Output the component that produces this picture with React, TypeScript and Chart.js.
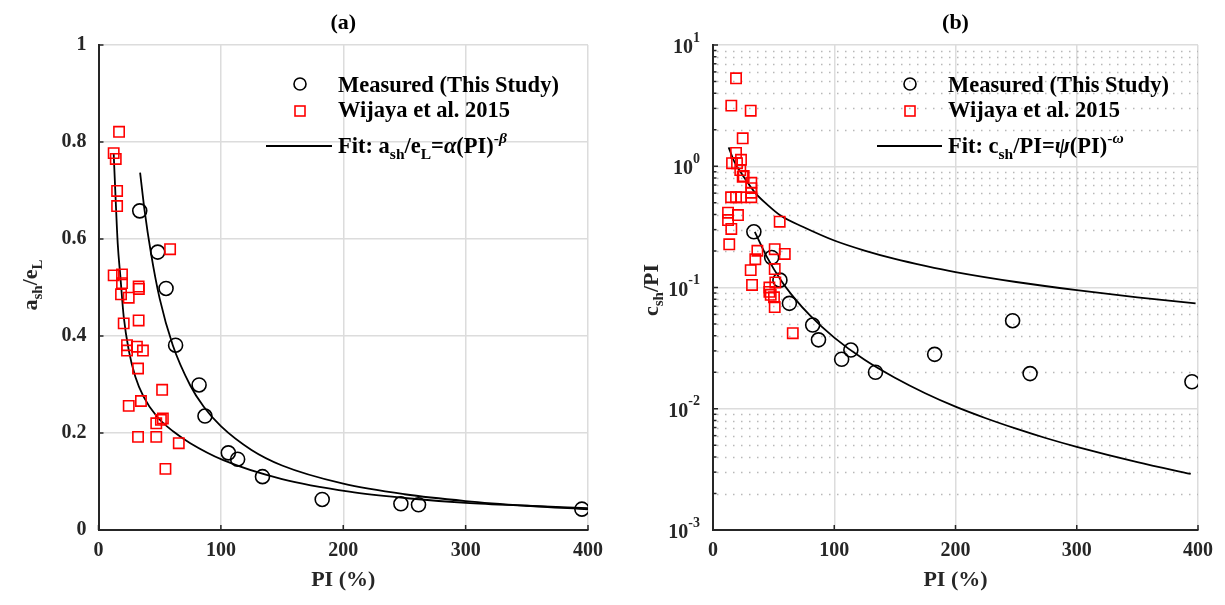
import React, { useEffect, useRef } from "react";
import { Chart, registerables } from "chart.js";
Chart.register(...registerables);

const FONT = '"Liberation Serif", "Times New Roman", Times, serif';
const AX = "#262626";
const GRID = "#dcdcdc";

// ---------- data ----------
const measuredPI = [33.7, 48.4, 55.2, 63, 82.2, 87, 106.1, 113.7, 134, 182.8, 247.1, 261.5, 395];
const measuredA = [0.658, 0.573, 0.498, 0.381, 0.299, 0.235, 0.159, 0.146, 0.11, 0.063, 0.054, 0.052, 0.043];
const measuredC = [0.288, 0.177, 0.115, 0.074, 0.049, 0.037, 0.0256, 0.0305, 0.02, 0.0281, 0.0532, 0.0195, 0.0167];

const wijayaPI_A = [16.8, 12.4, 14.1, 15.2, 15.2, 58.5, 12.4, 19.2, 19.2, 18.4, 24.7, 32.8, 33, 20.6, 32.8, 23.3, 23.3, 31.4, 36.3, 32.3, 52, 24.7, 34.7, 51, 47.2, 52.6, 32.3, 47.2, 65.6, 54.7];
const wijayaA = [0.821, 0.777, 0.765, 0.699, 0.668, 0.579, 0.525, 0.527, 0.509, 0.486, 0.479, 0.502, 0.497, 0.426, 0.432, 0.381, 0.37, 0.378, 0.37, 0.333, 0.289, 0.256, 0.266, 0.227, 0.22, 0.23, 0.192, 0.192, 0.179, 0.126];

const wijayaPI_C = [19.0, 15.1, 31.1, 24.5, 19.0, 15.7, 19.8, 23.1, 22.5, 25.3, 24.5, 31.6, 31.6, 31.6, 31.6, 14.9, 19.0, 23.1, 12.4, 12.4, 20.6, 15.1, 55.0, 13.4, 36.6, 34.9, 50.9, 59.2, 31.1, 50.9, 32.2, 51.4, 46.5, 46.5, 47.6, 50.3, 50.9, 65.8];
const wijayaC = [5.31, 3.16, 2.87, 1.7, 1.29, 1.06, 1.06, 1.13, 0.93, 0.83, 0.82, 0.73, 0.66, 0.605, 0.555, 0.555, 0.555, 0.555, 0.414, 0.36, 0.396, 0.304, 0.349, 0.227, 0.201, 0.171, 0.207, 0.189, 0.139, 0.142, 0.105, 0.11, 0.1, 0.092, 0.087, 0.083, 0.069, 0.042];

const fitA1PI = [34, 37.7, 42.8, 50, 60.7, 75, 86, 100, 125, 150, 200, 250, 300, 350, 400];
const fitA1 = [0.737, 0.658, 0.572, 0.477, 0.381, 0.298, 0.254, 0.214, 0.165, 0.133, 0.0955, 0.0737, 0.0597, 0.05, 0.0427];
const fitA2PI = [12.4, 13.8, 15.7, 17.9, 20.6, 24.7, 30.1, 36.8, 47.7, 61.2, 75, 102, 150, 205, 250, 300, 350, 400];
const fitA2 = [0.777, 0.694, 0.591, 0.522, 0.44, 0.371, 0.316, 0.275, 0.234, 0.203, 0.179, 0.144, 0.105, 0.079, 0.066, 0.056, 0.05, 0.045];

const fitC1PI = [12.9, 18, 24.6, 35, 45, 56, 74, 100, 125, 150, 175, 200, 250, 300, 350, 398];
const fitC1 = [1.43, 1.07, 0.84, 0.6, 0.48, 0.39, 0.317, 0.244, 0.2015, 0.172, 0.1507, 0.134, 0.111, 0.095, 0.083, 0.074];
const fitC2PI = [34.5, 45, 56, 67, 80, 100, 125, 150, 175, 200, 225, 250, 275, 300, 350, 394];
const fitC2 = [0.288, 0.1745, 0.115, 0.0822, 0.0588, 0.0386, 0.0253, 0.018, 0.01342, 0.0104, 0.00835, 0.00685, 0.00571, 0.00485, 0.00363, 0.0029];

const xTicks = [0, 100, 200, 300, 400];
const yTicksA = [0, 0.2, 0.4, 0.6, 0.8, 1];
const yTicksC = [0.001, 0.01, 0.1, 1, 10];
const yTickExpC = ["-3", "-2", "-1", "0", "1"];

const legendMeasured = "Measured (This Study)";
const legendWijaya = "Wijaya et al. 2015";

// ---------- helpers ----------
type Part = { t: string; s: number; dy?: number; it?: boolean };
function setFont(ctx: CanvasRenderingContext2D, size: number, italic?: boolean) {
  ctx.font = `${italic ? "italic " : ""}bold ${size}px ${FONT}`;
}
function richWidth(ctx: CanvasRenderingContext2D, parts: Part[]) {
  let w = 0;
  for (const p of parts) {
    setFont(ctx, p.s, p.it);
    w += ctx.measureText(p.t).width;
  }
  return w;
}
function drawRich(ctx: CanvasRenderingContext2D, parts: Part[], x: number, y: number) {
  let cx = x;
  ctx.textAlign = "left";
  for (const p of parts) {
    setFont(ctx, p.s, p.it);
    ctx.fillText(p.t, cx, y + (p.dy || 0));
    cx += ctx.measureText(p.t).width;
  }
}
const pts = (xs: number[], ys: number[]) => xs.map((x, i) => ({ x, y: ys[i] }));

type PanelDef = {
  title: string;
  yLabel: Part[];
  yLabelX: number;
  yLabelY: number;
  fitLegend: Part[];
  legendX: number;
  lineX0: number;
  lineX1: number;
  textX: number;
  log: boolean;
};

const LS = 22.5; // legend font size

function makePlugin(def: PanelDef) {
  return {
    id: "decor",
    beforeDatasetsDraw(chart: any) {
      const { ctx, chartArea: a } = chart;
      const ys = chart.scales.y;
      if (def.log) {
        ctx.save();
        ctx.strokeStyle = "#b8b8b8";
        ctx.lineWidth = 1.3;
        ctx.setLineDash([1.5, 6.5]);
        for (let e = -3; e <= 0; e++) {
          for (let k = 2; k <= 9; k++) {
            const y = Math.round(ys.getPixelForValue(k * Math.pow(10, e))) + 0.5;
            ctx.beginPath();
            ctx.moveTo(a.left + 4, y);
            ctx.lineTo(a.right, y);
            ctx.stroke();
          }
        }
        ctx.restore();
      }
    },
    afterDraw(chart: any) {
      const { ctx, chartArea: a } = chart;
      const xs = chart.scales.x;
      const ys = chart.scales.y;
      ctx.save();
      ctx.strokeStyle = AX;
      ctx.lineWidth = 1.5;
      ctx.setLineDash([]);
      for (const v of xTicks) {
        const x = xs.getPixelForValue(v);
        ctx.beginPath();
        ctx.moveTo(x, a.bottom);
        ctx.lineTo(x, a.bottom - 5);
        ctx.stroke();
      }
      const majors = def.log ? yTicksC : yTicksA;
      for (const v of majors) {
        const y = ys.getPixelForValue(v);
        ctx.beginPath();
        ctx.moveTo(a.left, y);
        ctx.lineTo(a.left + 5, y);
        ctx.stroke();
      }
      if (def.log) {
        for (let e = -3; e <= 0; e++) {
          for (let k = 2; k <= 9; k++) {
            const y = ys.getPixelForValue(k * Math.pow(10, e));
            ctx.beginPath();
            ctx.moveTo(a.left, y);
            ctx.lineTo(a.left + 3.5, y);
            ctx.stroke();
          }
        }
        ctx.fillStyle = AX;
        ctx.textBaseline = "middle";
        yTicksC.forEach((v, i) => {
          const y = ys.getPixelForValue(v);
          const parts: Part[] = [
            { t: "10", s: 20, dy: 3 },
            { t: yTickExpC[i], s: 14, dy: -7 },
          ];
          const w = richWidth(ctx, parts);
          drawRich(ctx, parts, a.left - 13 - w, y);
        });
      }
      ctx.fillStyle = "#000";
      ctx.textBaseline = "middle";
      ctx.textAlign = "center";
      setFont(ctx, 22);
      ctx.fillText(def.title, (a.left + a.right) / 2, 23);
      ctx.fillStyle = AX;
      ctx.fillText("PI (%)", (a.left + a.right) / 2, 580);
      ctx.save();
      ctx.translate(def.yLabelX, def.yLabelY);
      ctx.rotate(-Math.PI / 2);
      ctx.textBaseline = "middle";
      const w = richWidth(ctx, def.yLabel);
      drawRich(ctx, def.yLabel, -w / 2, 0);
      ctx.restore();
      // legend
      ctx.textBaseline = "alphabetic";
      ctx.fillStyle = "#000";
      ctx.lineWidth = 1.6;
      ctx.strokeStyle = "#000";
      ctx.beginPath();
      ctx.arc(def.legendX, 84, 6, 0, Math.PI * 2);
      ctx.stroke();
      ctx.strokeStyle = "#ff0000";
      ctx.strokeRect(def.legendX - 5, 106, 10, 10);
      ctx.strokeStyle = "#000";
      ctx.lineWidth = 2;
      ctx.beginPath();
      ctx.moveTo(def.lineX0, 146);
      ctx.lineTo(def.lineX1, 146);
      ctx.stroke();
      drawRich(ctx, [{ t: legendMeasured, s: LS }], def.textX, 92);
      drawRich(ctx, [{ t: legendWijaya, s: LS }], def.textX, 117);
      drawRich(ctx, def.fitLegend, def.textX, 153);
      ctx.restore();
    },
  };
}

function makeConfig(log: boolean): any {
  const measured = pts(measuredPI, log ? measuredC : measuredA);
  const wijaya = log ? pts(wijayaPI_C, wijayaC) : pts(wijayaPI_A, wijayaA);
  const fit1 = log ? pts(fitC1PI, fitC1) : pts(fitA1PI, fitA1);
  const fit2 = log ? pts(fitC2PI, fitC2) : pts(fitA2PI, fitA2);
  const lineDs = (data: any[]) => ({
    data,
    showLine: true,
    borderColor: "#000",
    borderWidth: 1.8,
    pointRadius: 0,
    cubicInterpolationMode: "monotone",
    fill: false,
  });
  const def: PanelDef = log
    ? {
        title: "(b)",
        yLabel: [
          { t: "c", s: 22 },
          { t: "sh", s: 15, dy: 7 },
          { t: "/PI", s: 22 },
        ],
        yLabelX: 40,
        yLabelY: 290,
        fitLegend: [
          { t: "Fit: c", s: LS },
          { t: "sh", s: 15.5, dy: 6 },
          { t: "/PI=", s: LS },
          { t: "ψ", s: LS, it: true },
          { t: "(PI)", s: LS },
          { t: "-", s: 15.5, dy: -10 },
          { t: "ω", s: 15.5, dy: -10, it: true },
        ],
        legendX: 298,
        lineX0: 265,
        lineX1: 330,
        textX: 336,
        log: true,
      }
    : {
        title: "(a)",
        yLabel: [
          { t: "a", s: 22 },
          { t: "sh", s: 15, dy: 7 },
          { t: "/e", s: 22 },
          { t: "L", s: 15, dy: 7 },
        ],
        yLabelX: 31,
        yLabelY: 285,
        fitLegend: [
          { t: "Fit: a", s: LS },
          { t: "sh", s: 15.5, dy: 6 },
          { t: "/e", s: LS },
          { t: "L", s: 15.5, dy: 6 },
          { t: "=", s: LS },
          { t: "α", s: LS, it: true },
          { t: "(PI)", s: LS },
          { t: "-", s: 15.5, dy: -10 },
          { t: "β", s: 15.5, dy: -10, it: true },
        ],
        legendX: 300,
        lineX0: 266,
        lineX1: 332,
        textX: 338,
        log: false,
      };
  const tickFont = { family: FONT, size: 20, weight: "bold" };
  return {
    type: "scatter",
    data: {
      datasets: [
        {
          data: wijaya,
          pointStyle: "rect",
          pointRadius: 7.3,
          borderColor: "#ff0000",
          borderWidth: 1.6,
          backgroundColor: "rgba(0,0,0,0)",
        },
        {
          data: measured,
          pointStyle: "circle",
          pointRadius: 7,
          borderColor: "#000",
          borderWidth: 1.6,
          backgroundColor: "rgba(0,0,0,0)",
        },
        lineDs(fit1),
        lineDs(fit2),
      ],
    },
    options: {
      responsive: false,
      animation: false,
      devicePixelRatio: 1,
      layout: { padding: { left: 0, top: 45, right: log ? 27 : 22, bottom: 0 } },
      plugins: { legend: { display: false }, tooltip: { enabled: false }, title: { display: false } },
      scales: {
        x: {
          type: "linear",
          min: 0,
          max: 400,
          afterBuildTicks: (s: any) => {
            s.ticks = xTicks.map((value) => ({ value }));
          },
          afterFit: (s: any) => {
            s.height = 75;
          },
          ticks: { font: tickFont, color: AX, padding: 9, maxRotation: 0, callback: (v: any) => String(v) },
          grid: { color: GRID, lineWidth: 1.5, drawTicks: false },
          border: { color: AX, width: 2 },
        },
        y: log
          ? {
              type: "logarithmic",
              min: 0.001,
              max: 10,
              afterBuildTicks: (s: any) => {
                s.ticks = yTicksC.map((value) => ({ value }));
              },
              afterFit: (s: any) => {
                s.width = 101;
              },
              ticks: { display: false },
              grid: { color: GRID, lineWidth: 1.5, drawTicks: false },
              border: { color: AX, width: 2 },
            }
          : {
              type: "linear",
              min: 0,
              max: 1,
              afterBuildTicks: (s: any) => {
                s.ticks = yTicksA.map((value) => ({ value }));
              },
              afterFit: (s: any) => {
                s.width = 98.5;
              },
              ticks: { font: tickFont, color: AX, padding: 12, callback: (v: any) => String(v) },
              grid: { color: GRID, lineWidth: 1.5, drawTicks: false },
              border: { color: AX, width: 2 },
            },
      },
    },
    plugins: [makePlugin(def)],
  };
}

function Panel({ log, left, width }: { log: boolean; left: number; width: number }) {
  const ref = useRef<HTMLCanvasElement | null>(null);
  useEffect(() => {
    if (!ref.current) return;
    const chart = new Chart(ref.current, makeConfig(log));
    return () => chart.destroy();
  }, [log]);
  return (
    <canvas
      ref={ref}
      width={width}
      height={605}
      style={{ position: "absolute", left, top: 0, width, height: 605, display: "block" }}
    />
  );
}

export default function App() {
  return (
    <div style={{ position: "absolute", left: 0, top: 0, width: 1225, height: 605, background: "#fff" }}>
      <Panel log={false} left={0} width={612} />
      <Panel log={true} left={612} width={613} />
    </div>
  );
}
